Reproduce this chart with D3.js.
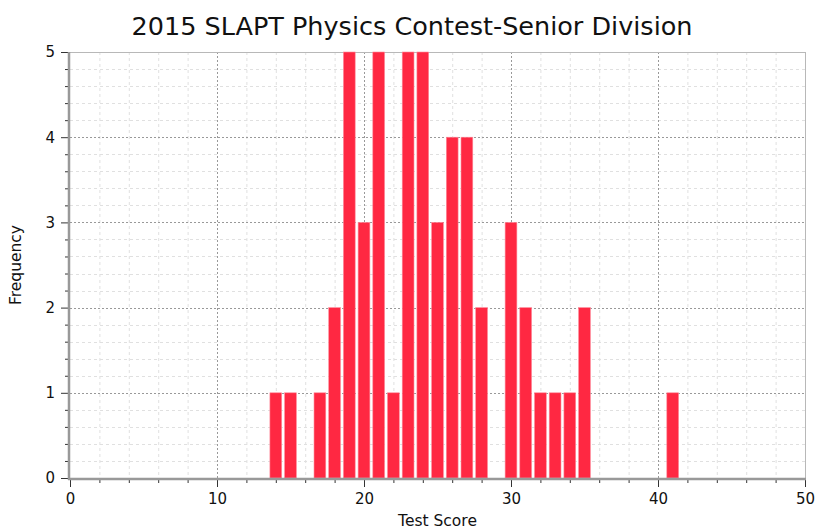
<!DOCTYPE html>
<html><head><meta charset="utf-8">
<script src="https://cdn.jsdelivr.net/npm/d3@7"></script>
<style>body{margin:0;background:#fff;} svg{display:block;}</style>
</head><body>
<svg id="chart" width="817" height="529"></svg>
<script>
const title = "2015 SLAPT Physics Contest-Senior Division";
const xLabel = "Test Score";
const yLabel = "Frequency";
const scores = [14, 15, 17, 18, 19, 20, 21, 22, 23, 24, 25, 26, 27, 28, 30, 31, 32, 33, 34, 35, 41];
const frequency = [1, 1, 1, 2, 5, 3, 5, 1, 5, 5, 3, 4, 4, 2, 3, 2, 1, 1, 1, 2, 1];
const xTicks = [0, 10, 20, 30, 40, 50];
const yTicks = [0, 1, 2, 3, 4, 5];

const svg = d3.select("#chart");
const m = {l: 70, r: 805, t: 52, b: 478};
const x = d3.scaleLinear().domain([0, 50]).range([m.l, m.r]);
const y = d3.scaleLinear().domain([0, 5]).range([m.b, m.t]);
const font = "'DejaVu Sans', sans-serif";

// minor grid
const g = svg.append("g");
g.selectAll(".mx").data(d3.range(2, 50, 2).filter(v => v % 10 !== 0)).join("line")
  .attr("x1", d => x(d) + 0.5).attr("x2", d => x(d) + 0.5).attr("y1", m.t).attr("y2", m.b)
  .attr("stroke", "#e0e0e0").attr("stroke-dasharray", "3,3");
g.selectAll(".my").data(d3.range(0.2, 5, 0.2).filter(v => Math.abs(v - Math.round(v)) > 0.01)).join("line")
  .attr("y1", d => Math.round(y(d)) + 0.5).attr("y2", d => Math.round(y(d)) + 0.5).attr("x1", m.l).attr("x2", m.r)
  .attr("stroke", "#e0e0e0").attr("stroke-dasharray", "3,3");
// major grid
g.selectAll(".Mx").data([10, 20, 30, 40]).join("line")
  .attr("x1", d => x(d) + 0.5).attr("x2", d => x(d) + 0.5).attr("y1", m.t).attr("y2", m.b)
  .attr("stroke", "#999").attr("stroke-dasharray", "2,2");
g.selectAll(".My").data([1, 2, 3, 4]).join("line")
  .attr("y1", d => Math.round(y(d)) + 0.5).attr("y2", d => Math.round(y(d)) + 0.5).attr("x1", m.l).attr("x2", m.r)
  .attr("stroke", "#999").attr("stroke-dasharray", "2,2");
// top and right border
svg.append("line").attr("x1", m.l).attr("x2", m.r).attr("y1", m.t + 0.5).attr("y2", m.t + 0.5).attr("stroke", "#b8b8b8");
svg.append("line").attr("x1", m.r + 0.5).attr("x2", m.r + 0.5).attr("y1", m.t).attr("y2", m.b).attr("stroke", "#b8b8b8");

// bars
const bw = x(0.8) - x(0);
svg.append("g").selectAll("rect").data(scores).join("rect")
  .attr("x", (d) => x(d) - bw / 2)
  .attr("width", bw)
  .attr("y", (d, i) => y(frequency[i]))
  .attr("height", (d, i) => y(0) - y(frequency[i]))
  .attr("fill", "#ff2842").attr("stroke", "#ff8a9a").attr("stroke-width", 0.6);

// axes
const xAxis = d3.axisBottom(x).tickValues(xTicks).tickFormat(d3.format("d")).tickSize(8).tickPadding(6);
const xMinor = d3.axisBottom(x).tickValues(d3.range(0, 51, 2).filter(v => v % 10 !== 0)).tickFormat("").tickSize(4);
const yAxis = d3.axisLeft(y).tickValues(yTicks).tickFormat(d3.format("d")).tickSize(8).tickPadding(6);
const yMinor = d3.axisLeft(y).tickValues(d3.range(0, 5.01, 0.2).filter(v => Math.abs(v - Math.round(v)) > 0.01)).tickFormat("").tickSize(4);

function style(sel) {
  sel.select(".domain").remove();
  sel.selectAll("line").attr("stroke", "#333");
  sel.selectAll("text").attr("font-family", font).attr("font-size", 15).attr("fill", "#111");
}
svg.append("g").attr("transform", `translate(0,${m.b + 1})`).call(xMinor).call(style);
svg.append("g").attr("transform", `translate(0,${m.b + 1})`).call(xAxis).call(style);
svg.append("g").attr("transform", `translate(${m.l - 1},0)`).call(yMinor).call(style);
svg.append("g").attr("transform", `translate(${m.l - 1},0)`).call(yAxis).call(style);

svg.append("line").attr("x1", m.l - 1).attr("x2", m.l - 1).attr("y1", m.t).attr("y2", m.b + 2).attr("stroke", "#999").attr("stroke-width", 2.5);
svg.append("line").attr("x1", m.l - 2).attr("x2", m.r + 1).attr("y1", m.b + 1).attr("y2", m.b + 1).attr("stroke", "#999").attr("stroke-width", 2.5);

// labels
svg.append("text").attr("x", 412).attr("y", 35).attr("text-anchor", "middle")
  .attr("font-family", font).attr("font-size", 25.5).attr("fill", "#111").text(title);
svg.append("text").attr("x", (m.l + m.r) / 2).attr("y", 526).attr("text-anchor", "middle")
  .attr("font-family", font).attr("font-size", 15.5).attr("fill", "#111").text(xLabel);
svg.append("text").attr("transform", `translate(21,${(m.t + m.b) / 2}) rotate(-90)`).attr("text-anchor", "middle")
  .attr("font-family", font).attr("font-size", 15.5).attr("fill", "#111").text(yLabel);
</script>
</body></html>
